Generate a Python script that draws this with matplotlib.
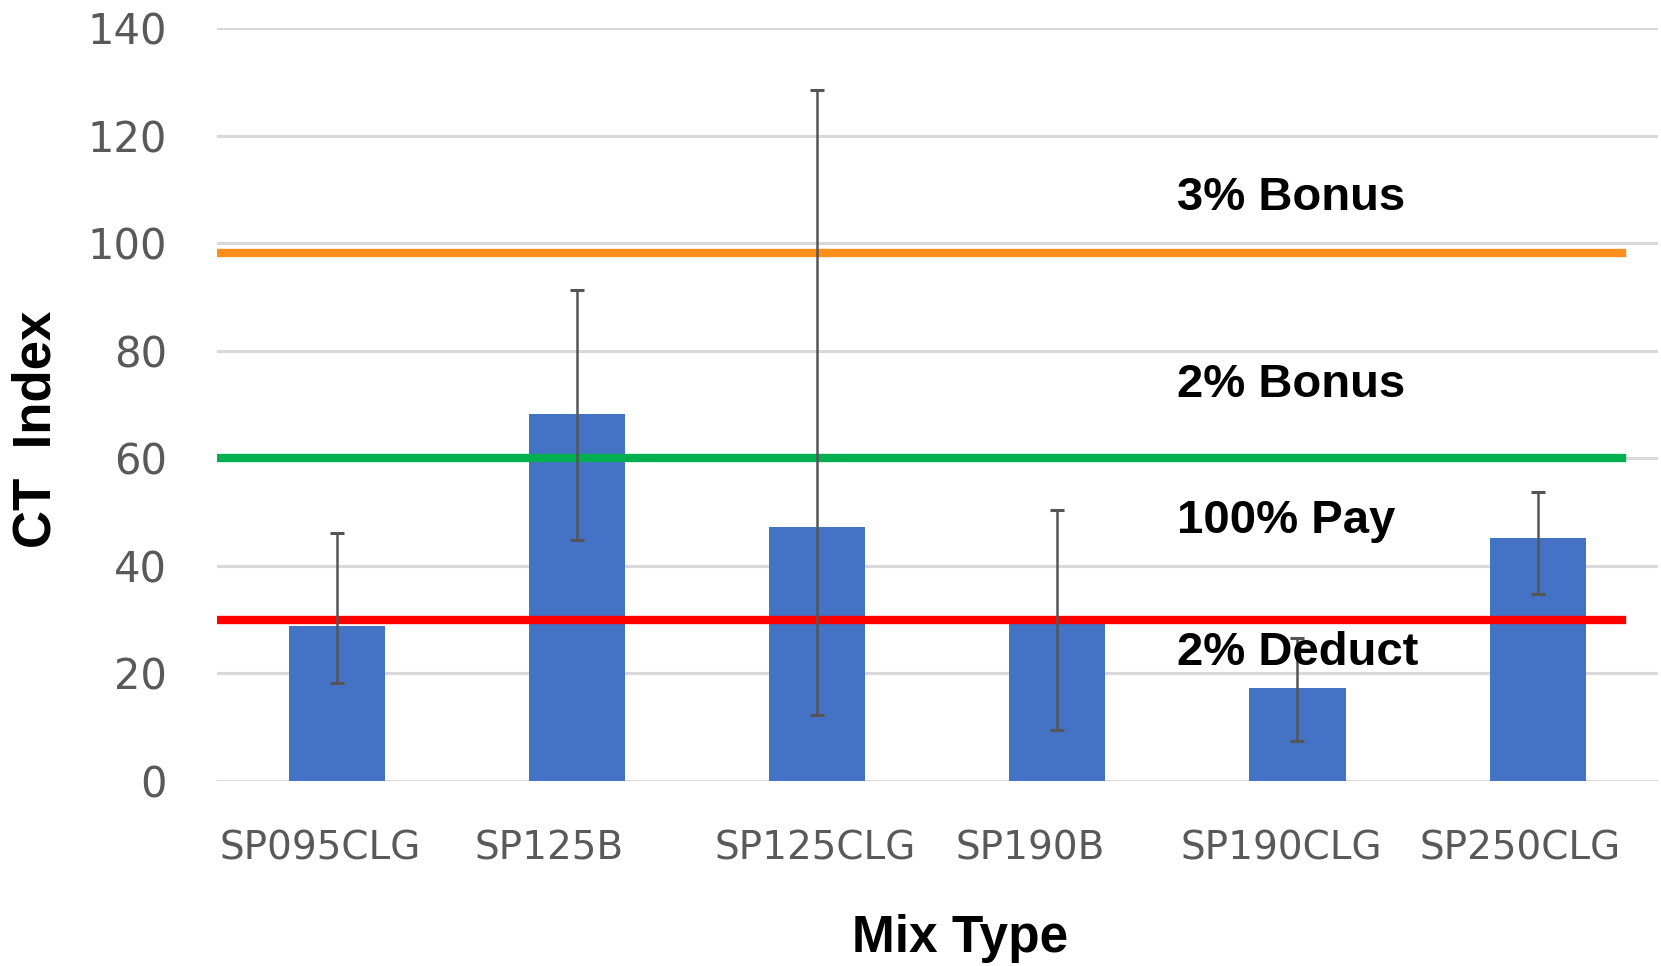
import matplotlib.pyplot as plt
import matplotlib.transforms as mtransforms
import numpy as np

# data
mixes = ['SP095CLG', 'SP125B', 'SP125CLG', 'SP190B', 'SP190CLG', 'SP250CLG']
ct_index = [28.8, 68.3, 47.3, 29.5, 17.3, 45.1]
err_low = [18.3, 44.8, 12.3, 9.5, 7.5, 34.7]     # bottom of error bar
err_high = [46.2, 91.2, 128.4, 50.3, 26.5, 53.8]  # top of error bar

limits = [98.2, 60, 30]
limit_colors = ['#FF8F1A', '#00B050', '#FF0000']
zone_labels = ['3% Bonus', '2% Bonus', '100% Pay', '2% Deduct']
zone_y = [108.4, 73.6, 48.4, 23.8]

x = np.arange(len(mixes))
vals = np.array(ct_index)
yerr = [vals - np.array(err_low), np.array(err_high) - vals]

fig = plt.figure(figsize=(16.61, 9.66), dpi=100)
ax = fig.add_axes([0.1306, 0.1915, 0.8674, 0.7795])

ax.bar(x, vals, width=0.4, color='#4472C4', zorder=2)

# pay factor limits
for v, c in zip(limits, limit_colors):
    ax.axhline(v, xmin=0, xmax=0.975, color=c, linewidth=6, zorder=3)

ax.errorbar(x, vals, yerr=yerr, fmt='none', ecolor='#555555',
            elinewidth=1.8, capsize=5, capthick=2.2, zorder=4)

for lab, yy in zip(zone_labels, zone_y):
    ax.text(3.5, yy, lab, ha='left', va='center', fontsize=34,
            fontweight='bold', family='Liberation Sans', color='black', zorder=5)

ax.set_xlim(-0.5, 5.5)
ax.set_ylim(0, 140)
ax.set_yticks(np.arange(0, 141, 20))
ax.set_xticks(x)
ax.set_xticklabels(mixes)
ax.grid(axis='y', color='#d9d9d9', linewidth=2.2, zorder=0)
ax.set_axisbelow(True)
for s in ax.spines.values():
    s.set_visible(False)
ax.tick_params(axis='y', length=0, pad=36, labelsize=30, labelcolor='#595959')
ax.tick_params(axis='x', length=0, pad=35, labelsize=28, labelcolor='#595959')

# excel puts the category labels a little left of the bars
shifts = [-17, -28, -2, -27, -16, -17]
for lbl, dx in zip(ax.get_xticklabels(), shifts):
    lbl.set_transform(lbl.get_transform() +
                      mtransforms.ScaledTranslation(dx / 100, 0, fig.dpi_scale_trans))

fig.text(37 / 1661, 0.556, 'CT  Index', rotation=90, ha='center', va='center',
         fontsize=38, fontweight='bold', family='Liberation Sans')
fig.text(960 / 1661, 0.028, 'Mix Type', ha='center', va='center',
         fontsize=37, fontweight='bold', family='Liberation Sans')

plt.savefig('out.png', dpi=100)
